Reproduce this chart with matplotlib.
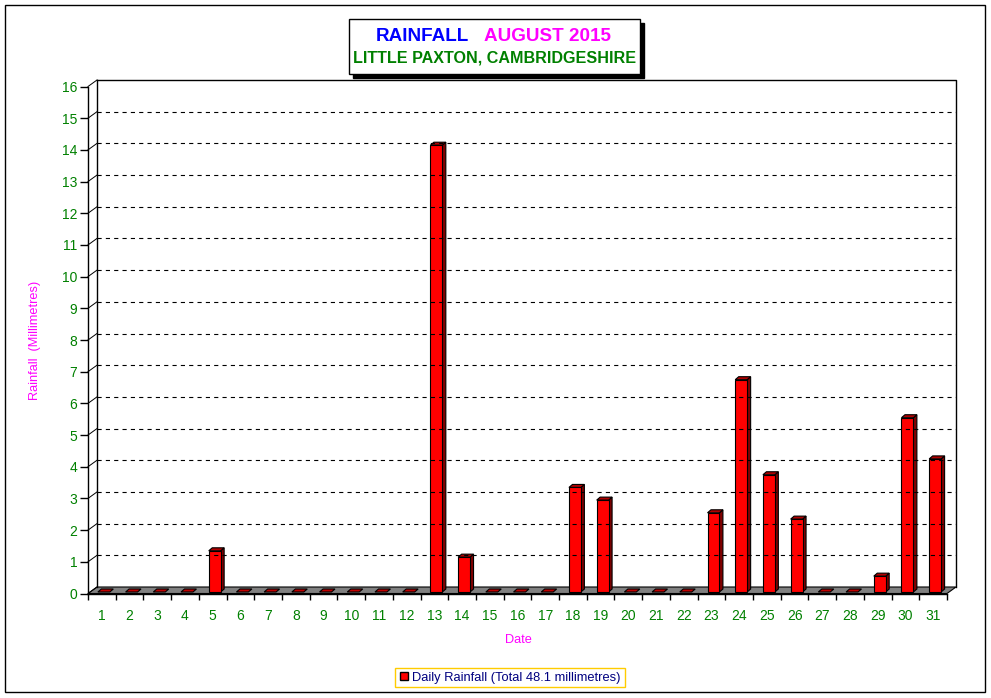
import matplotlib
matplotlib.use('Agg')
import matplotlib.pyplot as plt
from matplotlib.patches import Polygon, Rectangle
from matplotlib.lines import Line2D

# ---------------------------------------------------------------------------
# Data
# ---------------------------------------------------------------------------
days = list(range(1, 32))
rain_mm = [0, 0, 0, 0, 1.3, 0, 0, 0, 0, 0, 0, 0, 14.1, 1.1, 0, 0, 0,
           3.3, 2.9, 0, 0, 0, 2.5, 6.7, 3.7, 2.3, 0, 0, 0.5, 5.5, 4.2]
y_ticks = list(range(0, 17))
title_a = 'RAINFALL'
title_b = 'AUGUST 2015'
title_c = 'LITTLE PAXTON, CAMBRIDGESHIRE'
legend_label = f'Daily Rainfall (Total {sum(rain_mm):.1f} millimetres)'

W, H = 991, 698
FONT = 'Liberation Sans'
GREEN = '#008000'
MAGENTA = '#FF00FF'
plt.rcParams['font.family'] = [FONT, 'DejaVu Sans']
plt.rcParams['lines.scale_dashes'] = False

fig = plt.figure(figsize=(W / 100, H / 100), dpi=100)
fig.patch.set_facecolor('white')

# front plane of the pseudo-3D plot
ax = fig.add_axes([88 / W, (H - 593.5) / H, 859 / W, 507 / H])
ax.set_xlim(0.5, 31.5)
ax.set_ylim(0, 16)
ax.patch.set_visible(False)

# pixel -> data units
px_x = 31 / ax.bbox.width
px_y = 16 / ax.bbox.height

# depth offsets in pixels (right, up)
wall_dx, wall_dy = 9 * px_x, 6.5 * px_y
bf_dx, bf_dy = 2 * px_x, 1.5 * px_y
bb_dx, bb_dy = 5.5 * px_x, 4.5 * px_y
bar_w = 0.43

x0, x1 = 0.5, 31.5
kw = dict(clip_on=False)

# back wall gridlines + diagonals
for v in y_ticks[1:-1]:
    ax.plot([x0 + wall_dx, x1 + wall_dx], [v + wall_dy, v + wall_dy],
            color='black', lw=0.8, dashes=(3, 3), **kw)
for v in y_ticks:
    ax.plot([x0, x0 + wall_dx], [v, v + wall_dy], color='black', lw=0.7, **kw)
top = y_ticks[-1]
ax.plot([x0 + wall_dx, x1 + wall_dx, x1 + wall_dx],
        [top + wall_dy, top + wall_dy, wall_dy], color='black', lw=1, **kw)
ax.plot([x0 + wall_dx, x0 + wall_dx], [wall_dy, top + wall_dy],
        color='black', lw=1, **kw)

# floor
ax.add_patch(Polygon([(x0, 0), (x1, 0), (x1 + wall_dx, wall_dy), (x0 + wall_dx, wall_dy)],
                     closed=True, facecolor='#808080', edgecolor='black', lw=0.8, **kw))

# bars
for d, v in zip(days, rain_mm):
    l = d - bar_w / 2 + bf_dx
    r = d + bar_w / 2 + bf_dx
    b = bf_dy
    sx, sy = bb_dx - bf_dx, bb_dy - bf_dy
    if v <= 0:
        ax.add_patch(Polygon([(l, b), (r, b), (r + sx, b + sy), (l + sx, b + sy)],
                             closed=True, facecolor='#C00000', edgecolor='black', lw=0.8, **kw))
        continue
    t = v + bf_dy
    # side
    ax.add_patch(Polygon([(r, b), (r + sx, b + sy), (r + sx, t + sy), (r, t)],
                         closed=True, facecolor='#800000', edgecolor='black', lw=0.8, **kw))
    # top
    ax.add_patch(Polygon([(l, t), (r, t), (r + sx, t + sy), (l + sx, t + sy)],
                         closed=True, facecolor='#B00000', edgecolor='black', lw=0.8, **kw))
    # front
    ax.add_patch(Rectangle((l, b), r - l, t - b, facecolor='#FF0000',
                           edgecolor='black', lw=0.8, **kw))

# axes / ticks
for s in ('top', 'right'):
    ax.spines[s].set_visible(False)
ax.spines['left'].set_linewidth(1)
ax.spines['bottom'].set_linewidth(1)
ax.set_yticks(y_ticks)
ax.set_yticklabels([str(v) for v in y_ticks], color=GREEN, fontsize=10)
ax.tick_params(axis='y', length=5.8, width=1, pad=2, direction='out')
ax.set_xticks([d - 0.5 for d in days] + [days[-1] + 0.5])
ax.set_xticklabels([])
ax.set_xticks(days, minor=True)
ax.set_xticklabels([str(d) for d in days], minor=True, color=GREEN, fontsize=10)
ax.tick_params(axis='x', which='major', length=4.5, width=1, direction='out')
ax.tick_params(axis='x', which='minor', length=0, pad=11)

# axis labels
fig.text(35 / W, 1 - 340 / H, 'Rainfall  (Millimetres)', rotation=90,
         color=MAGENTA, fontsize=9.2, ha='center', va='center')
fig.text(518 / W, 1 - 640 / H, 'Date', color=MAGENTA, fontsize=9.2,
         ha='center', va='center')

# title box
fig.patches.append(Rectangle((353 / W, 1 - 78 / H), 291 / W, 55 / H,
                             transform=fig.transFigure, facecolor='black',
                             edgecolor='black'))
fig.patches.append(Rectangle((349 / W, 1 - 74 / H), 291 / W, 55 / H,
                             transform=fig.transFigure, facecolor='white',
                             edgecolor='black', lw=1))
fig.text(376 / W, 1 - 36.5 / H, title_a, color='#0000FF', fontsize=13.6,
         fontweight='bold', ha='left', va='center')
fig.text(484 / W, 1 - 36.5 / H, title_b, color=MAGENTA, fontsize=13.6,
         fontweight='bold', ha='left', va='center')
fig.text(495 / W, 1 - 58 / H, title_c, color=GREEN, fontsize=11.6,
         fontweight='bold', ha='center', va='center')

# legend
handle = Line2D([], [], marker='s', color='none', markerfacecolor='#FF0000',
                markeredgecolor='black', markersize=6)
leg = fig.legend([handle], [legend_label], loc='center',
                 bbox_to_anchor=(510 / W, 1 - 677.5 / H), frameon=True,
                 fancybox=False, edgecolor='#FFCC00', framealpha=1,
                 handlelength=0.7, handletextpad=0.3, borderpad=0.3,
                 fontsize=9.3, labelcolor='#000080')
leg.get_frame().set_linewidth(1)

# outer frame
fig.patches.append(Rectangle((5 / W, 1 - 692 / H), 980 / W, 687 / H,
                             transform=fig.transFigure, facecolor='none',
                             edgecolor='black', lw=1))

fig.savefig('out.png', dpi=100)
